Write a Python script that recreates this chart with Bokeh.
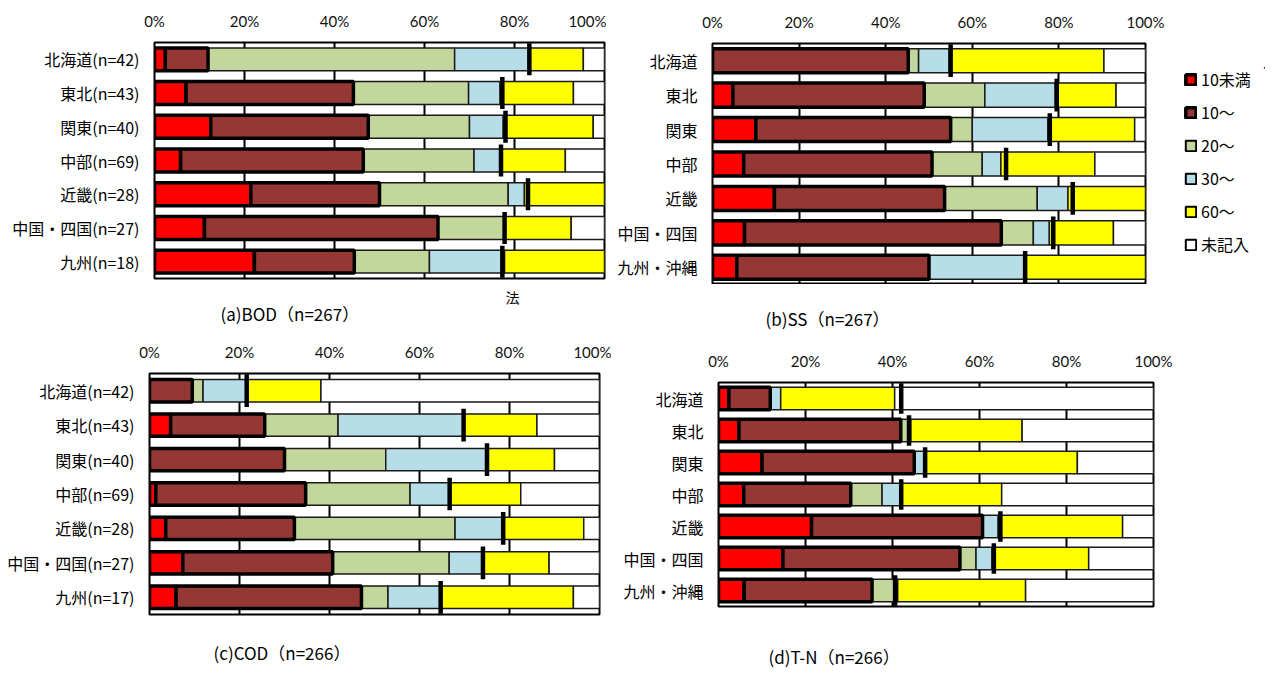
import numpy as np
from bokeh.plotting import figure
from bokeh.models import (FactorRange, Range1d, FixedTicker, PrintfTickFormatter,
                          Label, Legend, LegendItem, ColumnDataSource)
from bokeh.layouts import row, column
from bokeh.embed import file_html
from bokeh.resources import INLINE

# ---------------- data ----------------
segment_names = ["10未満", "10〜", "20〜", "30〜", "60〜", "未記入"]
segment_colors = ["#FF0000", "#953735", "#C3D69B", "#B7DEE8", "#FFFF00", "#FFFFFF"]

cats_bod = ["北海道(n=42)", "東北(n=43)", "関東(n=40)", "中部(n=69)", "近畿(n=28)", "中国・四国(n=27)", "九州(n=18)"]
cats_cod = ["北海道(n=42)", "東北(n=43)", "関東(n=40)", "中部(n=69)", "近畿(n=28)", "中国・四国(n=27)", "九州(n=17)"]
cats_region = ["北海道", "東北", "関東", "中部", "近畿", "中国・四国", "九州・沖縄"]

# (a) BOD  percentages per class
bod_lt10 = [2.4, 7.0, 12.5, 5.8, 21.4, 11.1, 22.2]
bod_10 = [9.5, 37.2, 35.0, 40.6, 28.6, 51.9, 22.2]
bod_20 = [54.8, 25.6, 22.5, 24.6, 28.6, 14.8, 16.7]
bod_30 = [16.7, 7.0, 7.5, 5.8, 3.6, 0.0, 16.7]
bod_60 = [11.9, 16.3, 20.0, 14.5, 17.9, 14.8, 22.2]
bod_mark = [83.3, 77.3, 78.0, 77.0, 83.0, 77.8, 77.3]

# (b) SS
ss_lt10 = [0.0, 4.7, 10.0, 7.2, 14.3, 7.4, 5.6]
ss_10 = [45.2, 44.2, 45.0, 43.5, 39.3, 59.3, 44.4]
ss_20 = [2.4, 14.0, 5.0, 11.6, 21.4, 7.4, 0.0]
ss_30 = [7.1, 16.3, 17.5, 4.3, 7.1, 3.7, 22.2]
ss_60 = [35.7, 14.0, 20.0, 21.7, 17.9, 14.8, 27.8]
ss_mark = [55.0, 79.5, 77.9, 67.8, 83.2, 78.7, 72.2]

# (c) COD
cod_lt10 = [0.0, 4.7, 0.0, 1.4, 3.6, 7.4, 5.9]
cod_10 = [9.5, 20.9, 30.0, 33.3, 28.6, 33.3, 41.2]
cod_20 = [2.4, 16.3, 22.5, 23.2, 35.7, 25.9, 5.9]
cod_30 = [9.5, 27.9, 22.5, 8.7, 10.7, 7.4, 11.8]
cod_60 = [16.7, 16.3, 15.0, 15.9, 17.9, 14.8, 29.4]
cod_mark = [21.6, 69.8, 75.0, 66.7, 78.6, 74.1, 64.7]

# (d) T-N
tn_lt10 = [2.4, 4.7, 10.0, 5.8, 21.4, 14.8, 5.9]
tn_10 = [9.5, 37.2, 35.0, 24.6, 39.3, 40.7, 29.4]
tn_20 = [0.0, 2.3, 0.0, 7.2, 0.0, 3.7, 5.9]
tn_30 = [2.4, 0.0, 2.5, 4.3, 3.6, 3.7, 0.0]
tn_60 = [26.2, 25.6, 35.0, 23.2, 28.6, 22.2, 29.4]
tn_mark = [42.0, 43.8, 47.5, 42.0, 64.8, 63.3, 40.6]

x_ticks = [0, 20, 40, 60, 80, 100]

panel_titles = ["(a)BOD（n=267）", "(b)SS（n=267）", "(c)COD（n=266）", "(d)T-N（n=266）"]
note_text = "法"

CJK = "Noto Sans CJK JP"
LAT = "Lato"


def make_panel(cats, segs, marks, width, height, borders, bar_h):
    mbl, mbr, mbt, mbb = borders
    p = figure(width=width, height=height, title=None,
               x_range=Range1d(0, 100),
               y_range=FactorRange(factors=cats[::-1], range_padding=0, factor_padding=0),
               x_axis_location="above", output_backend="svg", toolbar_location=None,
               min_border_left=mbl, min_border_right=mbr,
               min_border_top=mbt, min_border_bottom=mbb)
    p.background_fill_color = "white"
    p.border_fill_color = "white"
    p.outline_line_color = "black"
    p.outline_line_width = 2

    p.xaxis.ticker = FixedTicker(ticks=x_ticks)
    p.xaxis.formatter = PrintfTickFormatter(format="%d%%")
    p.xaxis.axis_line_color = None
    p.xaxis.major_tick_line_color = None
    p.xaxis.minor_tick_line_color = None
    p.xaxis.major_tick_out = 0
    p.xaxis.major_tick_in = 0
    p.xaxis.major_label_standoff = 13
    p.xaxis.major_label_text_font = LAT
    p.xaxis.major_label_text_font_size = "15px"
    p.xaxis.major_label_text_color = "#111111"

    p.yaxis.axis_line_color = None
    p.yaxis.major_tick_line_color = None
    p.yaxis.minor_tick_line_color = None
    p.yaxis.major_tick_out = 0
    p.yaxis.major_tick_in = 0
    p.yaxis.major_label_standoff = 15
    p.yaxis.major_label_text_font = CJK
    p.yaxis.major_label_text_font_size = "16px"
    p.yaxis.major_label_text_color = "black"

    p.xgrid.ticker = FixedTicker(ticks=[20, 40, 60, 80])
    p.xgrid.grid_line_color = "black"
    p.xgrid.grid_line_width = 2
    p.ygrid.grid_line_color = None

    vals = np.array(segs, dtype=float)
    white = np.clip(100.0 - vals.sum(axis=0), 0, None)
    vals = np.vstack([vals, white])
    rights = np.cumsum(vals, axis=0)
    lefts = rights - vals

    order = [2, 3, 4, 5, 0, 1]
    for i in order:
        keep = vals[i] > 0.05
        src = ColumnDataSource(dict(
            y=[c for c, k in zip(cats, keep) if k],
            left=lefts[i][keep], right=rights[i][keep]))
        thick = i in (0, 1)
        p.hbar(y="y", left="left", right="right", height=bar_h, source=src,
               fill_color=segment_colors[i],
               line_color="black" if thick else "#1a1a1a",
               line_width=3.5 if thick else 1.5)

    p.rect(x=marks, y=cats, width=4.5, width_units="screen", height=0.95,
           fill_color="black", line_color=None)
    return p


def text_strip(width, height, top, items):
    s = figure(width=width, height=height, title=None,
               x_range=Range1d(0, width), y_range=Range1d(0, height),
               x_axis_type=None, y_axis_type=None, output_backend="svg", toolbar_location=None,
               min_border_left=0, min_border_right=0, min_border_top=0, min_border_bottom=0)
    s.outline_line_color = None
    s.grid.visible = False
    for txt, px, py, size, align in items:
        s.add_layout(Label(x=px, y=height - (py - top), text=txt, text_font=CJK,
                           text_font_size=size, text_align=align, text_baseline="middle",
                           text_color="black"))
    return s


# top row (page y 0..284)
pa = make_panel(cats_bod, [bod_lt10, bod_10, bod_20, bod_30, bod_60], bod_mark,
                606, 284, (154, 2, 42, 6), 0.68)
pb = make_panel(cats_region, [ss_lt10, ss_10, ss_20, ss_30, ss_60], ss_mark,
                559, 284, (106, 20, 43, 0), 0.70)

# legend figure
pl = figure(width=100, height=284, title=None, x_range=Range1d(0, 1), y_range=Range1d(0, 1),
            x_axis_type=None, y_axis_type=None, output_backend="svg", toolbar_location=None,
            min_border_left=19, min_border_right=0, min_border_top=67, min_border_bottom=0)
pl.outline_line_color = None
pl.grid.visible = False
items = []
for i, name in enumerate(segment_names):
    thick = i in (0, 1)
    r = pl.hbar(y=[5.0], left=[5.0], right=[6.0], height=0.5, fill_color=segment_colors[i],
                line_color="black", line_width=3.5 if thick else 2)
    items.append(LegendItem(label=name, renderers=[r], index=0))
leg = Legend(items=items, location="top_left", margin=0, padding=0, spacing=9,
             glyph_width=13, glyph_height=13, label_height=20, label_standoff=4,
             label_text_font=CJK, label_text_font_size="16px", label_text_color="black",
             border_line_color=None, background_fill_alpha=0)
pl.add_layout(leg)

strip1 = text_strip(1265, 51, 284, [(panel_titles[0], 220, 313, "17px", "left"),
                                    (note_text, 512, 296, "14px", "center"),
                                    (panel_titles[1], 765, 318, "17px", "left")])

# bottom row (page y 335..630)
pc = make_panel(cats_cod, [cod_lt10, cod_10, cod_20, cod_30, cod_60], cod_mark,
                611, 295, (149, 12, 38, 16), 0.65)
pd_ = make_panel(cats_region, [tn_lt10, tn_10, tn_20, tn_30, tn_60], tn_mark,
                 654, 295, (107, 112, 47, 24), 0.70)

strip2 = text_strip(1265, 42, 630, [(panel_titles[2], 213, 652, "17px", "left"),
                                    (panel_titles[3], 768, 656, "17px", "left")])

layout = column(row(column(pa), column(pb), column(pl)), strip1,
                row(column(pc), column(pd_)), strip2)
open("out.html", "w").write(file_html(layout, INLINE))
